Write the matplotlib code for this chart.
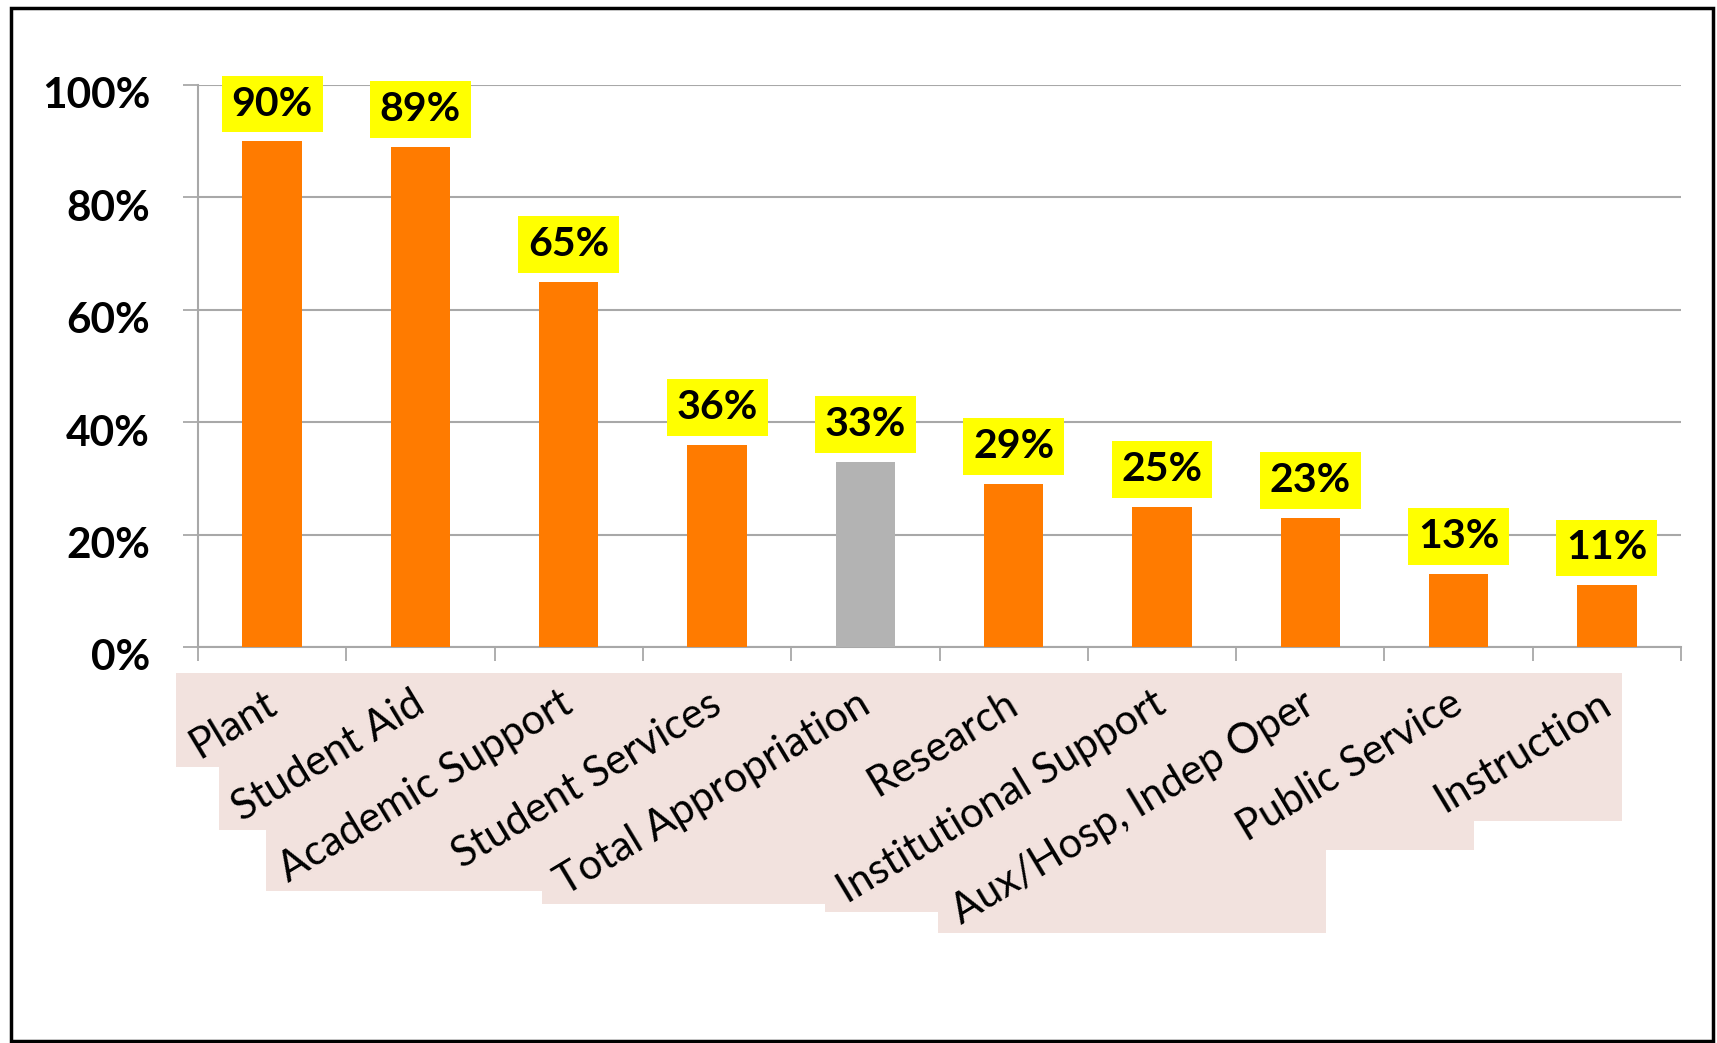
import matplotlib
matplotlib.use("Agg")
import matplotlib.pyplot as plt
import numpy as np
from matplotlib.patches import Rectangle
from matplotlib.transforms import IdentityTransform, ScaledTranslation

# share of each budget line covered by the appropriation, in percent
categories = [
    "Plant",
    "Student Aid",
    "Academic Support",
    "Student Services",
    "Total Appropriation",
    "Research",
    "Institutional Support",
    "Aux/Hosp, Indep Oper",
    "Public Service",
    "Instruction",
]
shares = [90, 89, 65, 36, 33, 29, 25, 23, 13, 11]
total_label = "Total Appropriation"
y_ticks = [0, 20, 40, 60, 80, 100]

ORANGE = "#FF7B00"
GREY = "#B3B3B3"
AXIS_GREY = "#A8A8A8"
LABEL_BG = "#F2E2DE"

plt.rcParams["font.family"] = ["Lato", "DejaVu Sans"]

W, H = 1717, 1043
fig = plt.figure(figsize=(W / 100, H / 100), dpi=100)
ax = fig.add_axes([198 / W, 1 - 647 / H, (1681 - 198) / W, (647 - 85) / H])

centers = np.arange(len(categories)) + 0.5
colors = [GREY if c == total_label else ORANGE for c in categories]
ax.bar(centers, shares, width=0.4, color=colors, zorder=3)

ax.set_xlim(0, len(categories))
ax.set_ylim(0, 100)

# value labels on yellow
for x, v in zip(centers, shares):
    ax.annotate(f"{v}%", (x, v), xytext=(0, 18.5), textcoords="offset points",
                ha="center", va="baseline", fontsize=29.5, fontweight="bold",
                bbox=dict(boxstyle="square,pad=0.24", fc="#FFFF00", ec="none"),
                zorder=4)

# y axis
ax.set_yticks(y_ticks)
ax.set_yticklabels([f"{t}%" for t in y_ticks], fontsize=30.5, fontweight="bold")
ax.tick_params(axis="y", length=10.5, width=1.3, color=AXIS_GREY, pad=24)
ax.yaxis.grid(True, color=AXIS_GREY, linewidth=1.5, zorder=0)
for lbl in ax.get_yticklabels():
    lbl.set_transform(lbl.get_transform() + ScaledTranslation(0, -8 / 100, fig.dpi_scale_trans))

# x axis: tick marks between categories, labels at the centres
ax.set_xticks(np.arange(len(categories) + 1))
ax.set_xticklabels([])
ax.tick_params(axis="x", which="major", length=10, width=1.3, color=AXIS_GREY)
ax.set_xticks(centers, categories, minor=True)
ax.tick_params(axis="x", which="minor", length=0, pad=27, labelsize=30)
for lbl in ax.get_xticklabels(minor=True):
    lbl.set_rotation(31)
    lbl.set_ha("right")
    lbl.set_va("top")
    lbl.set_rotation_mode("anchor")
    lbl.set_transform(lbl.get_transform() + ScaledTranslation(-9 / 100, 0, fig.dpi_scale_trans))

for side in ["top", "right"]:
    ax.spines[side].set_visible(False)
for side in ["left", "bottom"]:
    ax.spines[side].set_color(AXIS_GREY)
    ax.spines[side].set_linewidth(1.5)
ax.set_axisbelow(True)

# pale boxes behind the category labels (left, right, bottom, top padding in px)
fig.canvas.draw()
renderer = fig.canvas.get_renderer()
pad_l, pad_r, pad_b, pad_t = 7, 5, 2, 12
for lbl in ax.get_xticklabels(minor=True):
    bb = lbl.get_window_extent(renderer)
    fig.add_artist(Rectangle((bb.x0 - pad_l, bb.y0 - pad_b),
                             bb.width + pad_l + pad_r, bb.height + pad_b + pad_t,
                             transform=IdentityTransform(), fc=LABEL_BG, ec="none", zorder=-1))

# outer frame
fig.add_artist(Rectangle((11 / W, 2 / H), (1713 - 11) / W, (1041 - 8) / H,
                         transform=fig.transFigure, fill=False, ec="black", lw=2.5, zorder=5))

fig.savefig("out.png", dpi=100)
